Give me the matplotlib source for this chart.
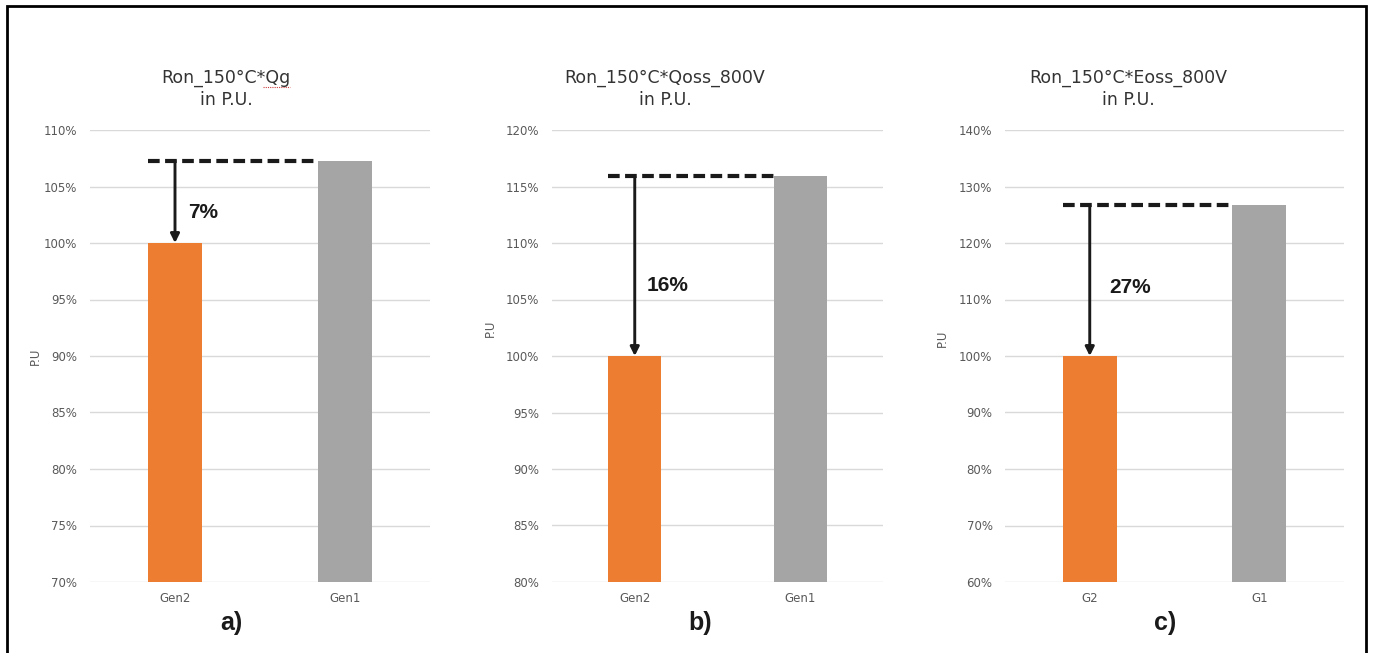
import matplotlib.pyplot as plt
from matplotlib.patches import Rectangle
from matplotlib.lines import Line2D
from matplotlib.ticker import FuncFormatter

# values in percent of the Gen2 device
titles = ["Ron_150°C*Qg\nin P.U.", "Ron_150°C*Qoss_800V\nin P.U.", "Ron_150°C*Eoss_800V\nin P.U."]
cats_a = ["Gen2", "Gen1"]
cats_b = ["Gen2", "Gen1"]
cats_c = ["G2", "G1"]
new_vals = [100, 100, 100]
old_vals = [107.3, 115.9, 126.7]
reduction = [7, 16, 27]
ylims = [(70, 110), (80, 120), (60, 140)]
ysteps = [5, 5, 10]
panel_tags = ["a)", "b)", "c)"]

W, H = 1373, 653
fig = plt.figure(figsize=(W / 100, H / 100), dpi=100)

# plot areas in pixels: x0, x1, y_top, y_bottom
boxes = [(90, 430, 130, 582), (552, 883, 130, 582), (1005, 1344, 130, 582)]
title_x = [226, 665, 1128]
tag_x = [231, 700, 1165]
ylab_pos = [(35, 356), (490, 328), (942, 338)]
txt_x = [0.076, 0.07, 0.115]
txt_frac = [0.38, 0.39, 0.45]

orange = "#ed7d31"
grey = "#a5a5a5"
tick_col = "#595959"
ink = "#1a1a1a"

for i, cats in enumerate([cats_a, cats_b, cats_c]):
    x0, x1, yt, yb = boxes[i]
    ax = fig.add_axes([x0 / W, 1 - yb / H, (x1 - x0) / W, (yb - yt) / H])
    lo, hi = ylims[i]
    ax.bar([0, 1], [new_vals[i] - lo, old_vals[i] - lo], bottom=lo, width=0.32,
           color=[orange, grey], zorder=3)
    ax.set_xlim(-0.5, 1.5)
    ax.set_ylim(lo, hi)
    ax.set_yticks(range(lo, hi + 1, ysteps[i]))
    ax.yaxis.set_major_formatter(FuncFormatter(lambda v, p: f"{v:.0f}%"))
    ax.set_xticks([0, 1])
    ax.set_xticklabels(cats)
    ax.tick_params(length=0, labelsize=8.5, colors=tick_col)
    ax.tick_params(axis="y", pad=9)
    ax.tick_params(axis="x", pad=7)
    ax.grid(axis="y", color="#d9d9d9", linewidth=1, zorder=0)
    for s in ax.spines.values():
        s.set_visible(False)

    # dashed reference at the Gen1 level, arrow down to Gen2
    level = old_vals[i]
    ax.plot([-0.16, 0.84], [level, level], color=ink, lw=3,
            dashes=(2.8, 1.3), zorder=4)
    ax.annotate("", xy=(0, new_vals[i]), xytext=(0, level),
                arrowprops=dict(arrowstyle="-|>", color=ink, lw=2.1,
                                mutation_scale=13, shrinkA=0, shrinkB=0),
                zorder=5)
    ax.text(txt_x[i], new_vals[i] + txt_frac[i] * reduction[i], f"{reduction[i]}%",
            fontsize=15, fontweight="bold", family="Liberation Sans",
            color=ink, va="center", ha="left")

    fig.text(title_x[i] / W, 1 - 89 / H, titles[i], ha="center", va="center",
             fontsize=12.5, color="#333333", linespacing=1.35)
    fig.text(tag_x[i] / W, 1 - 623 / H, panel_tags[i], ha="center", va="center",
             fontsize=18, fontweight="bold", family="Liberation Sans", color=ink)
    lx, ly = ylab_pos[i]
    fig.text(lx / W, 1 - ly / H, "P.U", rotation=90, ha="center", va="center",
             fontsize=8.5, color=tick_col)

# spell-check squiggle under "Qg"
fig.add_artist(Line2D([263 / W, 290 / W], [1 - 87 / H, 1 - 87 / H],
                      color="#d04040", lw=0.8, ls=(0, (1, 1))))

# frame round the whole figure
fig.patches.append(Rectangle((6.5 / W, -0.05), (1366 - 6.5) / W, 1.05 - 6 / H,
                             transform=fig.transFigure, fill=False,
                             edgecolor="black", linewidth=2))

fig.savefig("out.png", dpi=100)
